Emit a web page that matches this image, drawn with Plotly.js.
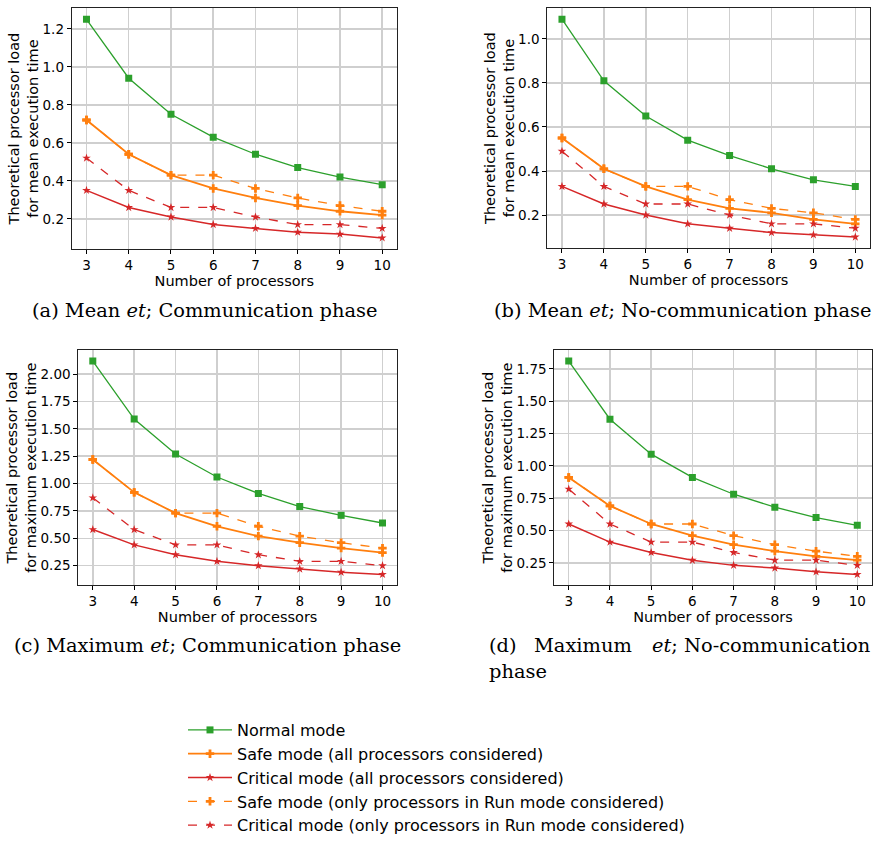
<!DOCTYPE html>
<html>
<head>
<meta charset="utf-8">
<script src="https://cdn.plot.ly/plotly-3.0.1.min.js"></script>
<style>html,body{margin:0;padding:0;background:#fff;}#chart{width:873px;height:842px;}</style>
</head>
<body>
<div id="chart"></div>
<script>
// ---------- DATA ----------
const processors = [3, 4, 5, 6, 7, 8, 9, 10];
const seriesNames = [
  "Normal mode",
  "Safe mode (all processors considered)",
  "Critical mode (all processors considered)",
  "Safe mode (only processors in Run mode considered)",
  "Critical mode (only processors in Run mode considered)"
];
// (a) Mean et; Communication phase
const meanCommNormal   = [1.25, 0.94, 0.75, 0.63, 0.54, 0.47, 0.42, 0.38];
const meanCommSafeAll  = [0.72, 0.54, 0.43, 0.36, 0.31, 0.27, 0.24, 0.22];
const meanCommCritAll  = [0.35, 0.26, 0.21, 0.17, 0.15, 0.13, 0.12, 0.10];
const meanCommSafeRun  = [0.72, 0.54, 0.43, 0.43, 0.36, 0.31, 0.27, 0.24];
const meanCommCritRun  = [0.52, 0.35, 0.26, 0.26, 0.21, 0.17, 0.17, 0.15];
// (b) Mean et; No-communication phase
const meanNoCommNormal  = [1.09, 0.81, 0.65, 0.54, 0.47, 0.41, 0.36, 0.33];
const meanNoCommSafeAll = [0.55, 0.41, 0.33, 0.27, 0.23, 0.21, 0.18, 0.16];
const meanNoCommCritAll = [0.33, 0.25, 0.20, 0.16, 0.14, 0.12, 0.11, 0.10];
const meanNoCommSafeRun = [0.55, 0.41, 0.33, 0.33, 0.27, 0.23, 0.21, 0.18];
const meanNoCommCritRun = [0.49, 0.33, 0.25, 0.25, 0.20, 0.16, 0.16, 0.14];
// (c) Maximum et; Communication phase
const maxCommNormal   = [2.12, 1.59, 1.27, 1.06, 0.91, 0.79, 0.71, 0.64];
const maxCommSafeAll  = [1.22, 0.92, 0.73, 0.61, 0.52, 0.46, 0.41, 0.37];
const maxCommCritAll  = [0.58, 0.44, 0.35, 0.29, 0.25, 0.22, 0.19, 0.17];
const maxCommSafeRun  = [1.22, 0.92, 0.73, 0.73, 0.61, 0.52, 0.46, 0.41];
const maxCommCritRun  = [0.87, 0.58, 0.44, 0.44, 0.35, 0.29, 0.29, 0.25];
// (d) Maximum et; No-communication phase
const maxNoCommNormal  = [1.81, 1.36, 1.09, 0.91, 0.78, 0.68, 0.60, 0.54];
const maxNoCommSafeAll = [0.91, 0.69, 0.55, 0.46, 0.39, 0.34, 0.30, 0.27];
const maxNoCommCritAll = [0.55, 0.41, 0.33, 0.27, 0.23, 0.21, 0.18, 0.16];
const maxNoCommSafeRun = [0.91, 0.69, 0.55, 0.55, 0.46, 0.39, 0.34, 0.30];
const maxNoCommCritRun = [0.82, 0.55, 0.41, 0.41, 0.33, 0.27, 0.27, 0.23];

const xTickLabels = ["3", "4", "5", "6", "7", "8", "9", "10"];
const xTitle = "Number of processors";
const yTitleMean = "Theoretical processor load<br>for mean execution time";
const yTitleMax = "Theoretical processor load<br>for maximum execution time";
const captions = [
  "(a) Mean <i>et</i>; Communication phase",
  "(b) Mean <i>et</i>; No-communication phase",
  "(c) Maximum <i>et</i>; Communication phase"
];

// ---------- STYLE ----------
const W = 873, H = 842;
const styles = [
  {color: "#2ca02c", dash: "solid", symbol: "square", size: 7, width: 1.3},
  {color: "#ff7f0e", dash: "solid", symbol: "cross", size: 7, width: 1.8},
  {color: "#d62728", dash: "solid", symbol: "star", size: 6.5, width: 1.5},
  {color: "#ff7f0e", dash: "dash", symbol: "cross", size: 7, width: 1.3},
  {color: "#d62728", dash: "dash", symbol: "star", size: 6.5, width: 1.3}
];
const panels = [
  {data: [meanCommNormal, meanCommSafeAll, meanCommCritAll, meanCommSafeRun, meanCommCritRun],
   box: [71.7, 397, 8.4, 250.9], ytitle: yTitleMean, dtick: 0.2, fmt: ".1f"},
  {data: [meanNoCommNormal, meanNoCommSafeAll, meanNoCommCritAll, meanNoCommSafeRun, meanNoCommCritRun],
   box: [547.3, 870, 8.3, 250], ytitle: yTitleMean, dtick: 0.2, fmt: ".1f"},
  {data: [maxCommNormal, maxCommSafeAll, maxCommCritAll, maxCommSafeRun, maxCommCritRun],
   box: [78.3, 397, 353.3, 590], ytitle: yTitleMax, dtick: 0.25, fmt: ".2f"},
  {data: [maxNoCommNormal, maxNoCommSafeAll, maxNoCommCritAll, maxNoCommSafeRun, maxNoCommCritRun],
   box: [554.3, 871.7, 353.3, 590], ytitle: yTitleMax, dtick: 0.25, fmt: ".2f"}
];

const traces = [];
const layout = {
  width: W, height: H,
  margin: {l: 0, r: 0, t: 0, b: 0},
  paper_bgcolor: "#ffffff", plot_bgcolor: "#ffffff",
  font: {family: "DejaVu Sans", size: 13, color: "#000"},
  showlegend: true,
  legend: {
    x: 183 / W, y: 1 - 719 / H, xanchor: "left", yanchor: "top",
    font: {family: "DejaVu Sans", size: 16, color: "#000"},
    bgcolor: "rgba(0,0,0,0)", borderwidth: 0,
    tracegroupgap: 0, itemwidth: 44
  },
  annotations: []
};

panels.forEach((p, i) => {
  const ax = i === 0 ? "" : String(i + 1);
  const all = p.data.flat();
  const mn = Math.min(...all), mx = Math.max(...all);
  const pad = (mx - mn) * 0.05;
  const xmin = Math.min(...processors), xmax = Math.max(...processors);
  const xpad = (xmax - xmin) * 0.05;
  p.data.forEach((ys, k) => {
    const s = styles[k];
    traces.push({
      x: processors, y: ys, type: "scatter", mode: "lines+markers",
      name: seriesNames[k], showlegend: i === 0,
      xaxis: "x" + ax, yaxis: "y" + ax,
      line: {color: s.color, dash: s.dash, width: s.width},
      marker: {symbol: s.symbol, size: s.size, color: s.color}
    });
  });
  const [l, r, t, b] = p.box;
  layout["xaxis" + ax] = {
    domain: [l / W, r / W], anchor: "y" + ax,
    range: [xmin - xpad, xmax + xpad],
    tickvals: processors, ticktext: xTickLabels,
    ticks: "outside", ticklen: 4, tickcolor: "#000",
    showline: true, mirror: true, linecolor: "#222", linewidth: 1,
    showgrid: true, gridcolor: "#cfcfcf", gridwidth: 1.5, zeroline: false,
    tickfont: {size: 13.5},
    title: {text: xTitle, font: {size: 14.5}, standoff: 1}
  };
  layout["yaxis" + ax] = {
    domain: [1 - b / H, 1 - t / H], anchor: "x" + ax,
    range: [mn - pad, mx + pad],
    dtick: p.dtick, tick0: 0, tickformat: p.fmt,
    ticks: "outside", ticklen: 4, tickcolor: "#000",
    showline: true, mirror: true, linecolor: "#222", linewidth: 1,
    showgrid: true, gridcolor: "#cfcfcf", gridwidth: 1.5, zeroline: false,
    tickfont: {size: 13.5},
    title: {text: p.ytitle, font: {size: 14.5}, standoff: 0}
  };
});

const capFont = {family: "DejaVu Serif", size: 19.4, color: "#000"};
const capPos = [[30, 313], [492, 313], [12, 651]];
captions.forEach((c, i) => {
  layout.annotations.push({
    text: c, xref: "paper", yref: "paper",
    x: capPos[i][0] / W, y: 1 - capPos[i][1] / H,
    xanchor: "left", yanchor: "middle", showarrow: false, font: capFont
  });
});
// (d) caption: justified first line, "phase" on the next
const capD = [["(d)", 487, "left"], ["Maximum", 532, "left"], ["<i>et</i>;", 650, "left"], ["No-communication", 872, "right"]];
capD.forEach(([txt, x, anc]) => {
  layout.annotations.push({
    text: txt, xref: "paper", yref: "paper", x: x / W, y: 1 - 651 / H,
    xanchor: anc, yanchor: "middle", showarrow: false, font: capFont
  });
});
layout.annotations.push({
  text: "phase", xref: "paper", yref: "paper", x: 487 / W, y: 1 - 677 / H,
  xanchor: "left", yanchor: "middle", showarrow: false, font: capFont
});

Plotly.newPlot("chart", traces, layout, {displayModeBar: false, staticPlot: true});
</script>
</body>
</html>
